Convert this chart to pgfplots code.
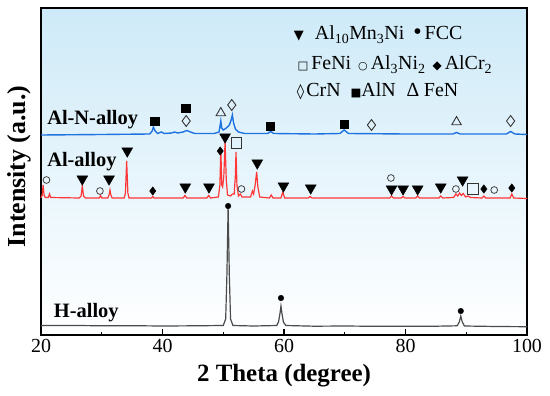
\documentclass[border=0pt]{standalone}
\usepackage{pgfplots}
\pgfplotsset{compat=1.18}
\usepackage{fontspec}
\setmainfont{Liberation Serif}
\newfontfamily\symfont{DejaVu Sans}
\newcommand\sym[2][10]{{\symfont\fontsize{#1}{#1}\selectfont #2}}
\definecolor{bgtop}{RGB}{206,234,248}
\definecolor{cred}{RGB}{255,55,55}
\definecolor{cblue}{RGB}{30,115,225}
\definecolor{cgray}{RGB}{75,75,75}
\begin{document}
\begin{tikzpicture}
\begin{axis}[
  scale only axis, width=486bp, height=327bp,
  xmin=20, xmax=100, ymin=0, ymax=327,
  clip=false,
  axis background/.style={top color=bgtop, bottom color=white},
  axis line style={line width=1.4pt},
  xtick={20,40,60,80,100}, minor xtick={30,50,70,90},
  ytick=\empty,
  xtick pos=bottom, tick align=inside,
  major tick length=6bp, minor tick length=3.5bp,
  every tick/.style={black, line width=1.2pt},
  /pgf/number format/assume math mode=true,
  xticklabel style={font=\fontsize{20}{20}\selectfont, yshift=-1bp},
  xlabel={\bfseries 2 Theta (degree)},
  xlabel style={font=\fontsize{25}{25}\selectfont, at={(axis description cs:0.5,0)}, anchor=base, yshift=-46bp},
]
% H-alloy
\addplot[cgray, line width=1.2pt] coordinates {
(20,9.5) (25,9.6) (30,9.2) (35,9.3) (40,9) (45,9.2) (50,9.5) (50.4,16) (50.6,60) (50.8,127) (51.0,60) (51.2,16) (51.6,9.5)
(55,9) (58.8,9.5) (59.1,13) (59.35,22) (59.5,29) (59.65,22) (59.9,13) (60.3,9.5) (65,8.8) (70,9) (75,8.7) (80,8.8) (85,8.8)
(88.5,9.2) (88.85,13) (89.1,19) (89.35,13) (89.7,9) (95,8.5) (100,8.3)};
% Al-alloy
\addplot[cred, line width=1.2pt] coordinates {
(20.0,137) (20.2,140) (20.35,150) (20.5,140) (20.7,137.5) (21.2,137.5) (21.4,141) (21.6,137.5)
(26.3,137) (26.6,139) (26.8,149) (27.0,139) (27.3,137) (29.6,137) (29.8,139.5) (30.0,137)
(31.0,137) (31.2,140) (31.35,145) (31.5,140) (31.7,137) (33.7,137) (33.9,142) (34.1,174) (34.3,142) (34.5,137)
(38.2,137) (38.4,138.5) (38.6,137) (43.4,137) (43.7,139.5) (44.0,137) (47.3,137) (47.6,139.5) (47.9,137)
(49.2,138) (49.45,150) (49.6,187) (49.75,150) (49.9,148) (50.1,160) (50.3,193) (50.5,155) (50.7,140)
(51.2,139) (51.5,141) (51.8,141) (52.0,160) (52.1,183) (52.25,150) (52.5,139) (52.8,141) (53.1,138)
(54.5,138) (54.8,144) (55.0,141) (55.25,150) (55.5,163) (55.7,148) (56.0,138) (57.6,137) (57.9,140) (58.2,137)
(59.5,137) (59.8,143) (60.1,137) (64.0,137) (64.3,138.5) (64.6,137) (70,137) (77.4,137) (77.7,139) (78.0,137)
(79.3,137) (79.6,138.5) (79.9,137) (81.7,137) (82.0,139) (82.3,137) (85.5,137) (85.8,139) (86.1,137)
(87.9,137.5) (88.3,141) (88.6,139) (88.9,142) (89.2,139.5) (89.5,141.5) (89.9,138) (90.3,139) (90.7,137.5)
(92.6,137) (92.9,139) (93.2,137) (97.2,137) (97.5,141) (97.8,137) (100,136.5)};
% Al-N-alloy
\addplot[cblue, line width=1.4pt] coordinates {
(20,200) (30,200.5) (37.9,201) (38.3,204) (38.5,208) (38.8,204) (39.2,201.5) (39.8,203) (40.3,201.5)
(41.5,202) (42.0,203) (42.5,202) (43.4,203) (44.0,204.5) (44.6,203) (45.3,201.5) (48.5,201.5)
(49.3,203) (49.5,210) (49.6,214) (49.75,207) (50.0,205) (50.5,207) (51.0,210) (51.3,215) (51.5,220)
(51.7,212) (52.0,206) (52.5,203) (53.5,201.5) (57.3,201.5) (57.8,203.5) (58.3,201.5) (65,201)
(69.2,201.5) (69.9,205) (70.6,201.5) (80,201) (87.8,201) (88.4,202.5) (89.0,201) (96.6,201) (97.3,203.5) (98.0,201) (100,200.5)};
% markers
\addplot[only marks, mark=triangle*, mark size=6.3, mark options={rotate=180, fill=black, draw=black}] coordinates {
(26.8,156) (31.2,156) (34.2,184) (43.75,148) (47.65,148) (50.3,198) (55.6,172) (59.9,149) (64.4,147)
(77.7,146) (79.6,146) (82.0,146) (85.8,148) (89.4,155)};
\addplot[only marks, mark=diamond*, mark size=4.2, mark options={fill=black, draw=black}] coordinates {
(38.4,144) (49.5,184) (92.9,146) (97.5,147)};
\addplot[only marks, mark=o, mark size=3.4, mark options={draw=black!75, line width=0.8pt}] coordinates {
(20.9,155) (29.7,144) (53.0,146) (77.6,157) (88.3,146) (94.6,145)};
\addplot[only marks, mark=square, mark size=5.2, mark options={draw=black!80, line width=1pt}] coordinates {
(52.2,192) (91.1,146)};
\addplot[only marks, mark=*, mark size=2.8, mark options={fill=black, draw=black}] coordinates {
(50.8,129) (59.5,37) (89.1,24)};
\addplot[only marks, mark=square*, mark size=4.2, mark options={fill=black, draw=black}] coordinates {
(38.7,214) (43.8,227) (57.7,209) (69.9,211)};
\addplot[only marks, mark=diamond, mark size=5.5, mark options={draw=black!80, line width=0.9pt}] coordinates {
(43.9,214) (51.4,230) (74.4,210) (97.3,214)};
\addplot[only marks, mark=triangle, mark size=5.5, mark options={draw=black!80, line width=0.9pt}] coordinates {
(49.6,222) (88.4,213)};
% labels
\node[anchor=base west, font=\fontsize{20.5}{20.5}\selectfont\bfseries, inner sep=0pt] at (axis cs:21.0,211) {Al-N-alloy};
\node[anchor=base west, font=\fontsize{20.5}{20.5}\selectfont\bfseries, inner sep=0pt] at (axis cs:21.0,169) {Al-alloy};
\node[anchor=base west, font=\fontsize{20.5}{20.5}\selectfont\bfseries, inner sep=0pt] at (axis cs:22.1,18) {H-alloy};
% legend
\node[anchor=base west, font=\fontsize{20}{20}\selectfont, inner sep=0pt] at (axis cs:61.6,295)
  {\sym[13]{▼}\hspace{11bp}Al\textsubscript{10}Mn\textsubscript{3}Ni\hspace{9bp}{\fontsize{24}{24}\selectfont•}\hspace{3bp}FCC};
\node[anchor=base west, font=\fontsize{20}{20}\selectfont, inner sep=0pt] at (axis cs:62.2,265)
  {\sym[11.5]{□}\hspace{3bp}FeNi\hspace{7bp}\sym[11]{○}\hspace{3bp}Al\textsubscript{3}Ni\textsubscript{2}\hspace{7bp}\sym[12]{◆}\hspace{3bp}AlCr\textsubscript{2}};
\node[anchor=base west, font=\fontsize{20}{20}\selectfont, inner sep=0pt] at (axis cs:62.1,238)
  {\sym[15]{◊}\hspace{2bp}CrN\hspace{10bp}\sym[11.5]{■}AlN\hspace{11bp}∆ FeN};
\end{axis}
\node[rotate=90, font=\fontsize{26}{26}\selectfont\bfseries] at ([shift={(-22bp,5bp)}]current axis.west) {Intensity (a.u.)};
\pgfresetboundingbox
\path ([shift={(-41bp,-60bp)}]current axis.south west) rectangle ([shift={(23bp,8bp)}]current axis.north east);
\end{tikzpicture}
\end{document}
